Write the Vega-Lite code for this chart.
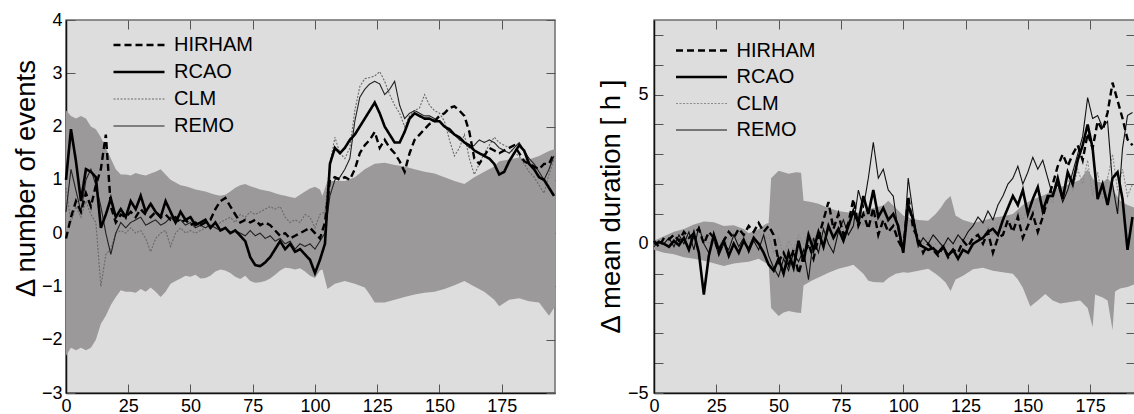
{
"$schema": "https://vega.github.io/schema/vega-lite/v6.json",
"padding": {"left": 11, "top": 10, "right": 0, "bottom": 0},
"bounds": "flush",
"spacing": 99,
"datasets": {
"Lband": [
{"x":0,"lo":-2.3,"hi":2.3},{"x":2,"lo":-2.15,"hi":2.2},{"x":4,"lo":-2.2,"hi":2.15},{"x":6,"lo":-2.15,"hi":2.2},{"x":8,"lo":-2.2,"hi":2.15},{"x":10,"lo":-2.15,"hi":2.0},{"x":12,"lo":-2.0,"hi":1.95},{"x":14,"lo":-1.7,"hi":1.8},{"x":16,"lo":-1.55,"hi":1.6},{"x":18,"lo":-1.35,"hi":1.4},
{"x":20,"lo":-1.2,"hi":1.2},{"x":22,"lo":-1.07,"hi":1.1},{"x":24,"lo":-1.1,"hi":1.1},{"x":26,"lo":-1.1,"hi":1.08},{"x":28,"lo":-1.12,"hi":1.13},{"x":30,"lo":-1.05,"hi":1.1},{"x":32,"lo":-1.1,"hi":1.08},{"x":34,"lo":-1.02,"hi":1.12},{"x":36,"lo":-1.1,"hi":1.15},{"x":38,"lo":-1.2,"hi":1.2},
{"x":40,"lo":-1.1,"hi":1.1},{"x":42,"lo":-0.95,"hi":1.0},{"x":44,"lo":-0.9,"hi":0.95},{"x":46,"lo":-0.85,"hi":0.9},{"x":48,"lo":-0.8,"hi":0.88},{"x":50,"lo":-0.82,"hi":0.85},{"x":52,"lo":-0.78,"hi":0.82},{"x":54,"lo":-0.85,"hi":0.8},{"x":56,"lo":-0.84,"hi":0.78},{"x":58,"lo":-0.8,"hi":0.75},
{"x":60,"lo":-0.72,"hi":0.72},{"x":62,"lo":-0.68,"hi":0.7},{"x":64,"lo":-0.7,"hi":0.72},{"x":66,"lo":-0.75,"hi":0.78},{"x":68,"lo":-0.82,"hi":0.85},{"x":70,"lo":-0.86,"hi":0.9},{"x":72,"lo":-0.8,"hi":0.92},{"x":74,"lo":-0.9,"hi":0.88},{"x":76,"lo":-0.93,"hi":0.85},{"x":78,"lo":-0.92,"hi":0.82},
{"x":80,"lo":-0.9,"hi":0.8},{"x":82,"lo":-0.85,"hi":0.78},{"x":84,"lo":-0.78,"hi":0.75},{"x":86,"lo":-0.7,"hi":0.72},{"x":88,"lo":-0.65,"hi":0.7},{"x":90,"lo":-0.66,"hi":0.68},{"x":92,"lo":-0.68,"hi":0.66},{"x":94,"lo":-0.66,"hi":0.72},{"x":96,"lo":-0.72,"hi":0.78},{"x":98,"lo":-0.8,"hi":0.84},
{"x":100,"lo":-0.84,"hi":0.87},{"x":102,"lo":-0.7,"hi":0.82},{"x":103,"lo":-0.68,"hi":0.7},{"x":105,"lo":-1.05,"hi":0.98},{"x":108,"lo":-0.95,"hi":0.98},{"x":112,"lo":-0.9,"hi":0.98},{"x":116,"lo":-0.95,"hi":1.05},{"x":120,"lo":-1.02,"hi":1.2},{"x":122,"lo":-1.15,"hi":1.25},{"x":124,"lo":-1.3,"hi":1.3},
{"x":128,"lo":-1.3,"hi":1.32},{"x":132,"lo":-1.25,"hi":1.28},{"x":136,"lo":-1.2,"hi":1.25},{"x":140,"lo":-1.15,"hi":1.2},{"x":144,"lo":-1.12,"hi":1.15},{"x":148,"lo":-1.1,"hi":1.12},{"x":152,"lo":-1.05,"hi":1.05},{"x":156,"lo":-0.98,"hi":0.98},{"x":160,"lo":-0.9,"hi":0.92},{"x":164,"lo":-1.0,"hi":1.05},
{"x":168,"lo":-1.1,"hi":1.15},{"x":172,"lo":-1.25,"hi":1.25},{"x":174,"lo":-1.37,"hi":1.35},{"x":178,"lo":-1.25,"hi":1.38},{"x":182,"lo":-1.22,"hi":1.42},{"x":186,"lo":-1.28,"hi":1.38},{"x":190,"lo":-1.3,"hi":1.45},{"x":194,"lo":-1.55,"hi":1.54},{"x":196.4,"lo":-1.37,"hi":1.58}
],
"Rband": [
{"x":0,"lo":-0.2,"hi":0.1},{"x":4,"lo":-0.3,"hi":0.25},{"x":8,"lo":-0.35,"hi":0.4},{"x":12,"lo":-0.45,"hi":0.5},{"x":16,"lo":-0.5,"hi":0.65},{"x":20,"lo":-0.57,"hi":0.75},{"x":24,"lo":-0.65,"hi":0.72},{"x":28,"lo":-0.74,"hi":0.6},{"x":32,"lo":-0.66,"hi":0.62},{"x":36,"lo":-0.62,"hi":0.5},
{"x":38,"lo":-0.6,"hi":0.35},{"x":42,"lo":-0.5,"hi":0.5},{"x":45,"lo":-0.65,"hi":0.67},{"x":46,"lo":-0.67,"hi":0.7},{"x":47,"lo":-2.15,"hi":2.2},{"x":50,"lo":-2.42,"hi":2.45},{"x":52,"lo":-2.3,"hi":2.4},{"x":54,"lo":-2.25,"hi":2.35},{"x":57,"lo":-2.3,"hi":2.4},{"x":59,"lo":-2.32,"hi":2.38},
{"x":60,"lo":-1.4,"hi":1.44},{"x":63,"lo":-1.25,"hi":1.4},{"x":66,"lo":-1.13,"hi":1.34},{"x":70,"lo":-0.97,"hi":1.2},{"x":74,"lo":-0.84,"hi":1.1},{"x":78,"lo":-0.75,"hi":1.05},{"x":80,"lo":-0.7,"hi":1.0},{"x":84,"lo":-1.0,"hi":1.1},{"x":86,"lo":-1.24,"hi":1.15},{"x":88,"lo":-1.28,"hi":1.2},
{"x":92,"lo":-1.3,"hi":1.28},{"x":94,"lo":-1.15,"hi":1.44},{"x":97,"lo":-1.0,"hi":1.2},{"x":100,"lo":-0.95,"hi":0.95},{"x":102,"lo":-0.97,"hi":0.87},{"x":106,"lo":-0.9,"hi":0.8},{"x":110,"lo":-0.84,"hi":0.77},{"x":113,"lo":-1.0,"hi":1.0},{"x":115,"lo":-1.14,"hi":1.2},{"x":117,"lo":-1.3,"hi":1.45},
{"x":119,"lo":-1.58,"hi":1.6},{"x":121,"lo":-1.2,"hi":0.95},{"x":124,"lo":-1.07,"hi":0.8},{"x":128,"lo":-0.85,"hi":0.7},{"x":132,"lo":-0.8,"hi":0.78},{"x":136,"lo":-0.9,"hi":0.87},{"x":140,"lo":-0.95,"hi":0.92},{"x":144,"lo":-1.0,"hi":1.0},{"x":146,"lo":-1.2,"hi":1.15},{"x":148,"lo":-1.47,"hi":1.3},
{"x":151,"lo":-2.1,"hi":1.44},{"x":154,"lo":-1.9,"hi":1.55},{"x":157,"lo":-1.68,"hi":1.65},{"x":160,"lo":-1.9,"hi":1.78},{"x":163,"lo":-2.0,"hi":1.9},{"x":167,"lo":-1.95,"hi":2.0},{"x":171,"lo":-1.9,"hi":2.15},{"x":174,"lo":-2.15,"hi":2.5},{"x":176,"lo":-2.8,"hi":2.2},{"x":177,"lo":-1.7,"hi":2.1},
{"x":180,"lo":-1.8,"hi":2.05},{"x":182,"lo":-1.9,"hi":2.2},{"x":184,"lo":-2.9,"hi":2.0},{"x":185,"lo":-1.6,"hi":1.7},{"x":187,"lo":-1.5,"hi":1.44},{"x":190,"lo":-1.45,"hi":1.3},{"x":193,"lo":-1.35,"hi":1.2}
],
"Lline": [
{"m":"CLM","x":0,"y":0.85},{"m":"CLM","x":2,"y":0.2},{"m":"CLM","x":4,"y":0.5},{"m":"CLM","x":6,"y":0.3},{"m":"CLM","x":8,"y":0.6},{"m":"CLM","x":10,"y":0.35},{"m":"CLM","x":12,"y":0.2},{"m":"CLM","x":14,"y":-1.0},{"m":"CLM","x":16,"y":-0.4},{"m":"CLM","x":18,"y":-0.3},
{"m":"CLM","x":20,"y":0.0},{"m":"CLM","x":22,"y":0.05},{"m":"CLM","x":24,"y":0.0},{"m":"CLM","x":26,"y":0.1},{"m":"CLM","x":28,"y":0.0},{"m":"CLM","x":30,"y":0.05},{"m":"CLM","x":32,"y":-0.1},{"m":"CLM","x":34,"y":-0.35},{"m":"CLM","x":36,"y":-0.1},{"m":"CLM","x":38,"y":0.0},
{"m":"CLM","x":40,"y":0.05},{"m":"CLM","x":42,"y":-0.25},{"m":"CLM","x":44,"y":0.0},{"m":"CLM","x":46,"y":0.1},{"m":"CLM","x":48,"y":0.0},{"m":"CLM","x":50,"y":0.05},{"m":"CLM","x":52,"y":0.0},{"m":"CLM","x":54,"y":0.05},{"m":"CLM","x":56,"y":0.1},{"m":"CLM","x":58,"y":0.15},
{"m":"CLM","x":60,"y":0.1},{"m":"CLM","x":62,"y":0.2},{"m":"CLM","x":64,"y":0.25},{"m":"CLM","x":66,"y":0.3},{"m":"CLM","x":68,"y":0.2},{"m":"CLM","x":70,"y":0.35},{"m":"CLM","x":72,"y":0.3},{"m":"CLM","x":74,"y":0.4},{"m":"CLM","x":76,"y":0.35},{"m":"CLM","x":78,"y":0.4},
{"m":"CLM","x":80,"y":0.45},{"m":"CLM","x":82,"y":0.5},{"m":"CLM","x":84,"y":0.45},{"m":"CLM","x":86,"y":0.5},{"m":"CLM","x":88,"y":0.3},{"m":"CLM","x":90,"y":0.2},{"m":"CLM","x":92,"y":0.25},{"m":"CLM","x":94,"y":0.2},{"m":"CLM","x":96,"y":0.35},{"m":"CLM","x":98,"y":0.3},
{"m":"CLM","x":100,"y":0.1},{"m":"CLM","x":102,"y":0.35},{"m":"CLM","x":104,"y":0.4},{"m":"CLM","x":106,"y":1.3},{"m":"CLM","x":108,"y":1.8},{"m":"CLM","x":110,"y":1.5},{"m":"CLM","x":112,"y":1.4},{"m":"CLM","x":114,"y":1.6},{"m":"CLM","x":116,"y":2.3},{"m":"CLM","x":118,"y":2.75},
{"m":"CLM","x":120,"y":2.9},{"m":"CLM","x":122,"y":2.92},{"m":"CLM","x":124,"y":2.95},{"m":"CLM","x":126,"y":3.03},{"m":"CLM","x":128,"y":2.85},{"m":"CLM","x":130,"y":2.6},{"m":"CLM","x":132,"y":2.4},{"m":"CLM","x":134,"y":2.25},{"m":"CLM","x":136,"y":2.0},{"m":"CLM","x":138,"y":2.2},
{"m":"CLM","x":140,"y":2.3},{"m":"CLM","x":142,"y":2.35},{"m":"CLM","x":144,"y":2.6},{"m":"CLM","x":146,"y":2.4},{"m":"CLM","x":148,"y":2.3},{"m":"CLM","x":150,"y":2.25},{"m":"CLM","x":152,"y":2.1},{"m":"CLM","x":154,"y":1.75},{"m":"CLM","x":156,"y":1.45},{"m":"CLM","x":158,"y":1.6},
{"m":"CLM","x":160,"y":1.85},{"m":"CLM","x":162,"y":1.4},{"m":"CLM","x":164,"y":1.1},{"m":"CLM","x":166,"y":1.3},{"m":"CLM","x":168,"y":1.5},{"m":"CLM","x":170,"y":1.65},{"m":"CLM","x":172,"y":1.8},{"m":"CLM","x":174,"y":1.7},{"m":"CLM","x":176,"y":1.65},{"m":"CLM","x":178,"y":1.6},
{"m":"CLM","x":180,"y":1.5},{"m":"CLM","x":182,"y":1.45},{"m":"CLM","x":184,"y":1.3},{"m":"CLM","x":186,"y":1.15},{"m":"CLM","x":188,"y":1.05},{"m":"CLM","x":190,"y":0.9},{"m":"CLM","x":192,"y":0.75},{"m":"CLM","x":194,"y":1.1},{"m":"CLM","x":196,"y":1.4},
{"m":"REMO","x":0,"y":0.4},{"m":"REMO","x":2,"y":1.2},{"m":"REMO","x":4,"y":0.8},{"m":"REMO","x":6,"y":0.4},{"m":"REMO","x":8,"y":1.0},{"m":"REMO","x":10,"y":1.2},{"m":"REMO","x":12,"y":0.9},{"m":"REMO","x":14,"y":0.5},{"m":"REMO","x":16,"y":0.0},{"m":"REMO","x":18,"y":-0.4},
{"m":"REMO","x":20,"y":0.0},{"m":"REMO","x":22,"y":0.2},{"m":"REMO","x":24,"y":0.1},{"m":"REMO","x":26,"y":0.2},{"m":"REMO","x":28,"y":0.25},{"m":"REMO","x":30,"y":0.3},{"m":"REMO","x":32,"y":0.15},{"m":"REMO","x":34,"y":0.2},{"m":"REMO","x":36,"y":0.25},{"m":"REMO","x":38,"y":0.15},
{"m":"REMO","x":40,"y":0.2},{"m":"REMO","x":42,"y":0.3},{"m":"REMO","x":44,"y":0.2},{"m":"REMO","x":46,"y":0.25},{"m":"REMO","x":48,"y":0.15},{"m":"REMO","x":50,"y":0.2},{"m":"REMO","x":52,"y":0.1},{"m":"REMO","x":54,"y":0.15},{"m":"REMO","x":56,"y":0.1},{"m":"REMO","x":58,"y":0.15},
{"m":"REMO","x":60,"y":0.1},{"m":"REMO","x":62,"y":0.05},{"m":"REMO","x":64,"y":0.1},{"m":"REMO","x":66,"y":0.0},{"m":"REMO","x":68,"y":0.05},{"m":"REMO","x":70,"y":0.0},{"m":"REMO","x":72,"y":-0.05},{"m":"REMO","x":74,"y":0.05},{"m":"REMO","x":76,"y":-0.05},{"m":"REMO","x":78,"y":0.0},
{"m":"REMO","x":80,"y":-0.1},{"m":"REMO","x":82,"y":-0.05},{"m":"REMO","x":84,"y":-0.15},{"m":"REMO","x":86,"y":-0.1},{"m":"REMO","x":88,"y":-0.2},{"m":"REMO","x":90,"y":-0.15},{"m":"REMO","x":92,"y":-0.3},{"m":"REMO","x":94,"y":-0.2},{"m":"REMO","x":96,"y":-0.25},{"m":"REMO","x":98,"y":-0.2},
{"m":"REMO","x":100,"y":-0.3},{"m":"REMO","x":102,"y":-0.15},{"m":"REMO","x":104,"y":0.0},{"m":"REMO","x":106,"y":0.7},{"m":"REMO","x":108,"y":1.0},{"m":"REMO","x":110,"y":1.05},{"m":"REMO","x":112,"y":1.2},{"m":"REMO","x":114,"y":1.4},{"m":"REMO","x":116,"y":2.1},{"m":"REMO","x":118,"y":2.55},
{"m":"REMO","x":120,"y":2.7},{"m":"REMO","x":122,"y":2.8},{"m":"REMO","x":124,"y":2.85},{"m":"REMO","x":126,"y":2.8},{"m":"REMO","x":128,"y":2.6},{"m":"REMO","x":130,"y":2.7},{"m":"REMO","x":132,"y":2.85},{"m":"REMO","x":134,"y":2.4},{"m":"REMO","x":136,"y":2.15},{"m":"REMO","x":138,"y":2.25},
{"m":"REMO","x":140,"y":2.3},{"m":"REMO","x":142,"y":2.25},{"m":"REMO","x":144,"y":2.2},{"m":"REMO","x":146,"y":2.2},{"m":"REMO","x":148,"y":2.15},{"m":"REMO","x":150,"y":2.1},{"m":"REMO","x":152,"y":2.0},{"m":"REMO","x":154,"y":1.9},{"m":"REMO","x":156,"y":1.85},{"m":"REMO","x":158,"y":1.75},
{"m":"REMO","x":160,"y":1.7},{"m":"REMO","x":162,"y":1.6},{"m":"REMO","x":164,"y":1.65},{"m":"REMO","x":166,"y":1.75},{"m":"REMO","x":168,"y":1.7},{"m":"REMO","x":170,"y":1.75},{"m":"REMO","x":172,"y":1.7},{"m":"REMO","x":174,"y":1.6},{"m":"REMO","x":176,"y":1.55},{"m":"REMO","x":178,"y":1.5},
{"m":"REMO","x":180,"y":1.6},{"m":"REMO","x":182,"y":1.7},{"m":"REMO","x":184,"y":1.55},{"m":"REMO","x":186,"y":1.4},{"m":"REMO","x":188,"y":1.3},{"m":"REMO","x":190,"y":1.15},{"m":"REMO","x":192,"y":1.0},{"m":"REMO","x":194,"y":1.2},{"m":"REMO","x":196,"y":1.45},
{"m":"HIRHAM","x":0,"y":-0.1},{"m":"HIRHAM","x":2,"y":0.3},{"m":"HIRHAM","x":4,"y":0.6},{"m":"HIRHAM","x":6,"y":0.4},{"m":"HIRHAM","x":8,"y":0.75},{"m":"HIRHAM","x":10,"y":0.5},{"m":"HIRHAM","x":12,"y":0.9},{"m":"HIRHAM","x":14,"y":1.2},{"m":"HIRHAM","x":16,"y":1.85},{"m":"HIRHAM","x":18,"y":0.5},
{"m":"HIRHAM","x":20,"y":0.2},{"m":"HIRHAM","x":22,"y":0.35},{"m":"HIRHAM","x":24,"y":0.3},{"m":"HIRHAM","x":26,"y":0.4},{"m":"HIRHAM","x":28,"y":0.3},{"m":"HIRHAM","x":30,"y":0.45},{"m":"HIRHAM","x":32,"y":0.35},{"m":"HIRHAM","x":34,"y":0.3},{"m":"HIRHAM","x":36,"y":0.4},{"m":"HIRHAM","x":38,"y":0.3},
{"m":"HIRHAM","x":40,"y":0.35},{"m":"HIRHAM","x":42,"y":0.25},{"m":"HIRHAM","x":44,"y":0.3},{"m":"HIRHAM","x":46,"y":0.2},{"m":"HIRHAM","x":48,"y":0.25},{"m":"HIRHAM","x":50,"y":0.15},{"m":"HIRHAM","x":52,"y":0.2},{"m":"HIRHAM","x":54,"y":0.15},{"m":"HIRHAM","x":56,"y":0.2},{"m":"HIRHAM","x":58,"y":0.25},
{"m":"HIRHAM","x":60,"y":0.45},{"m":"HIRHAM","x":62,"y":0.6},{"m":"HIRHAM","x":64,"y":0.66},{"m":"HIRHAM","x":66,"y":0.5},{"m":"HIRHAM","x":68,"y":0.35},{"m":"HIRHAM","x":70,"y":0.2},{"m":"HIRHAM","x":72,"y":0.25},{"m":"HIRHAM","x":74,"y":0.2},{"m":"HIRHAM","x":76,"y":0.25},{"m":"HIRHAM","x":78,"y":0.15},
{"m":"HIRHAM","x":80,"y":0.2},{"m":"HIRHAM","x":82,"y":0.15},{"m":"HIRHAM","x":84,"y":0.05},{"m":"HIRHAM","x":86,"y":-0.05},{"m":"HIRHAM","x":88,"y":0.0},{"m":"HIRHAM","x":90,"y":-0.1},{"m":"HIRHAM","x":92,"y":-0.05},{"m":"HIRHAM","x":94,"y":0.0},{"m":"HIRHAM","x":96,"y":0.05},{"m":"HIRHAM","x":98,"y":0.1},
{"m":"HIRHAM","x":100,"y":0.0},{"m":"HIRHAM","x":102,"y":-0.1},{"m":"HIRHAM","x":104,"y":0.2},{"m":"HIRHAM","x":106,"y":1.0},{"m":"HIRHAM","x":108,"y":1.05},{"m":"HIRHAM","x":110,"y":1.0},{"m":"HIRHAM","x":112,"y":1.05},{"m":"HIRHAM","x":114,"y":1.0},{"m":"HIRHAM","x":116,"y":1.2},{"m":"HIRHAM","x":118,"y":1.5},
{"m":"HIRHAM","x":120,"y":1.65},{"m":"HIRHAM","x":122,"y":1.75},{"m":"HIRHAM","x":124,"y":1.9},{"m":"HIRHAM","x":126,"y":1.6},{"m":"HIRHAM","x":128,"y":1.75},{"m":"HIRHAM","x":130,"y":1.6},{"m":"HIRHAM","x":132,"y":1.5},{"m":"HIRHAM","x":134,"y":1.35},{"m":"HIRHAM","x":136,"y":1.15},{"m":"HIRHAM","x":138,"y":1.5},
{"m":"HIRHAM","x":140,"y":1.75},{"m":"HIRHAM","x":142,"y":1.85},{"m":"HIRHAM","x":144,"y":1.95},{"m":"HIRHAM","x":146,"y":2.05},{"m":"HIRHAM","x":148,"y":2.1},{"m":"HIRHAM","x":150,"y":2.2},{"m":"HIRHAM","x":152,"y":2.25},{"m":"HIRHAM","x":154,"y":2.35},{"m":"HIRHAM","x":156,"y":2.38},{"m":"HIRHAM","x":158,"y":2.3},
{"m":"HIRHAM","x":160,"y":2.2},{"m":"HIRHAM","x":162,"y":1.9},{"m":"HIRHAM","x":164,"y":1.4},{"m":"HIRHAM","x":166,"y":1.3},{"m":"HIRHAM","x":168,"y":1.45},{"m":"HIRHAM","x":170,"y":1.6},{"m":"HIRHAM","x":172,"y":1.55},{"m":"HIRHAM","x":174,"y":1.5},{"m":"HIRHAM","x":176,"y":1.55},{"m":"HIRHAM","x":178,"y":1.6},
{"m":"HIRHAM","x":180,"y":1.65},{"m":"HIRHAM","x":182,"y":1.5},{"m":"HIRHAM","x":184,"y":1.35},{"m":"HIRHAM","x":186,"y":1.3},{"m":"HIRHAM","x":188,"y":1.25},{"m":"HIRHAM","x":190,"y":1.2},{"m":"HIRHAM","x":192,"y":1.3},{"m":"HIRHAM","x":194,"y":1.3},{"m":"HIRHAM","x":196,"y":1.5},
{"m":"RCAO","x":0,"y":1.0},{"m":"RCAO","x":2,"y":1.95},{"m":"RCAO","x":4,"y":1.35},{"m":"RCAO","x":6,"y":0.6},{"m":"RCAO","x":8,"y":1.2},{"m":"RCAO","x":10,"y":1.15},{"m":"RCAO","x":12,"y":1.05},{"m":"RCAO","x":14,"y":0.1},{"m":"RCAO","x":16,"y":0.35},{"m":"RCAO","x":18,"y":0.65},
{"m":"RCAO","x":20,"y":0.3},{"m":"RCAO","x":22,"y":0.45},{"m":"RCAO","x":24,"y":0.3},{"m":"RCAO","x":26,"y":0.6},{"m":"RCAO","x":28,"y":0.45},{"m":"RCAO","x":30,"y":0.7},{"m":"RCAO","x":32,"y":0.4},{"m":"RCAO","x":34,"y":0.55},{"m":"RCAO","x":36,"y":0.4},{"m":"RCAO","x":38,"y":0.3},
{"m":"RCAO","x":40,"y":0.6},{"m":"RCAO","x":42,"y":0.4},{"m":"RCAO","x":44,"y":0.2},{"m":"RCAO","x":46,"y":0.4},{"m":"RCAO","x":48,"y":0.25},{"m":"RCAO","x":50,"y":0.3},{"m":"RCAO","x":52,"y":0.15},{"m":"RCAO","x":54,"y":0.2},{"m":"RCAO","x":56,"y":0.25},{"m":"RCAO","x":58,"y":0.1},
{"m":"RCAO","x":60,"y":0.2},{"m":"RCAO","x":62,"y":0.05},{"m":"RCAO","x":64,"y":0.1},{"m":"RCAO","x":66,"y":0.0},{"m":"RCAO","x":68,"y":0.05},{"m":"RCAO","x":70,"y":-0.05},{"m":"RCAO","x":72,"y":-0.15},{"m":"RCAO","x":74,"y":-0.45},{"m":"RCAO","x":76,"y":-0.6},{"m":"RCAO","x":78,"y":-0.62},
{"m":"RCAO","x":80,"y":-0.55},{"m":"RCAO","x":82,"y":-0.45},{"m":"RCAO","x":84,"y":-0.3},{"m":"RCAO","x":86,"y":-0.15},{"m":"RCAO","x":88,"y":-0.3},{"m":"RCAO","x":90,"y":-0.2},{"m":"RCAO","x":92,"y":-0.35},{"m":"RCAO","x":94,"y":-0.3},{"m":"RCAO","x":96,"y":-0.4},{"m":"RCAO","x":98,"y":-0.5},
{"m":"RCAO","x":100,"y":-0.75},{"m":"RCAO","x":102,"y":-0.5},{"m":"RCAO","x":104,"y":-0.2},{"m":"RCAO","x":106,"y":1.3},{"m":"RCAO","x":108,"y":1.6},{"m":"RCAO","x":110,"y":1.5},{"m":"RCAO","x":112,"y":1.6},{"m":"RCAO","x":114,"y":1.75},{"m":"RCAO","x":116,"y":1.85},{"m":"RCAO","x":118,"y":2.0},
{"m":"RCAO","x":120,"y":2.15},{"m":"RCAO","x":122,"y":2.3},{"m":"RCAO","x":124,"y":2.45},{"m":"RCAO","x":126,"y":2.25},{"m":"RCAO","x":128,"y":2.0},{"m":"RCAO","x":130,"y":1.85},{"m":"RCAO","x":132,"y":1.7},{"m":"RCAO","x":134,"y":1.7},{"m":"RCAO","x":136,"y":1.9},{"m":"RCAO","x":138,"y":2.15},
{"m":"RCAO","x":140,"y":2.25},{"m":"RCAO","x":142,"y":2.2},{"m":"RCAO","x":144,"y":2.15},{"m":"RCAO","x":146,"y":2.15},{"m":"RCAO","x":148,"y":2.1},{"m":"RCAO","x":150,"y":2.1},{"m":"RCAO","x":152,"y":2.0},{"m":"RCAO","x":154,"y":1.95},{"m":"RCAO","x":156,"y":1.85},{"m":"RCAO","x":158,"y":1.8},
{"m":"RCAO","x":160,"y":1.7},{"m":"RCAO","x":162,"y":1.65},{"m":"RCAO","x":164,"y":1.55},{"m":"RCAO","x":166,"y":1.5},{"m":"RCAO","x":168,"y":1.45},{"m":"RCAO","x":170,"y":1.4},{"m":"RCAO","x":172,"y":1.3},{"m":"RCAO","x":174,"y":1.1},{"m":"RCAO","x":176,"y":1.15},{"m":"RCAO","x":178,"y":1.35},
{"m":"RCAO","x":180,"y":1.5},{"m":"RCAO","x":182,"y":1.65},{"m":"RCAO","x":184,"y":1.55},{"m":"RCAO","x":186,"y":1.3},{"m":"RCAO","x":188,"y":1.2},{"m":"RCAO","x":190,"y":1.05},{"m":"RCAO","x":192,"y":1.0},{"m":"RCAO","x":194,"y":0.85},{"m":"RCAO","x":196,"y":0.7}
],
"Rline": [
{"m":"CLM","x":0,"y":0.0},{"m":"CLM","x":2,"y":0.1},{"m":"CLM","x":4,"y":-0.05},{"m":"CLM","x":6,"y":0.1},{"m":"CLM","x":8,"y":0.0},{"m":"CLM","x":10,"y":0.15},{"m":"CLM","x":12,"y":0.05},{"m":"CLM","x":14,"y":0.2},{"m":"CLM","x":16,"y":0.0},{"m":"CLM","x":18,"y":0.1},
{"m":"CLM","x":20,"y":0.3},{"m":"CLM","x":22,"y":0.0},{"m":"CLM","x":24,"y":0.2},{"m":"CLM","x":26,"y":0.1},{"m":"CLM","x":28,"y":-0.1},{"m":"CLM","x":30,"y":0.2},{"m":"CLM","x":32,"y":0.3},{"m":"CLM","x":34,"y":0.1},{"m":"CLM","x":36,"y":0.3},{"m":"CLM","x":38,"y":0.0},
{"m":"CLM","x":40,"y":0.2},{"m":"CLM","x":42,"y":0.4},{"m":"CLM","x":44,"y":0.1},{"m":"CLM","x":46,"y":0.3},{"m":"CLM","x":48,"y":-0.3},{"m":"CLM","x":50,"y":0.2},{"m":"CLM","x":52,"y":-0.4},{"m":"CLM","x":54,"y":0.1},{"m":"CLM","x":56,"y":-0.2},{"m":"CLM","x":58,"y":0.3},
{"m":"CLM","x":60,"y":0.0},{"m":"CLM","x":62,"y":0.4},{"m":"CLM","x":64,"y":0.1},{"m":"CLM","x":66,"y":0.5},{"m":"CLM","x":68,"y":0.2},{"m":"CLM","x":70,"y":0.7},{"m":"CLM","x":72,"y":0.3},{"m":"CLM","x":74,"y":0.6},{"m":"CLM","x":76,"y":0.2},{"m":"CLM","x":78,"y":0.8},
{"m":"CLM","x":80,"y":0.5},{"m":"CLM","x":82,"y":1.0},{"m":"CLM","x":84,"y":0.6},{"m":"CLM","x":86,"y":1.2},{"m":"CLM","x":88,"y":0.7},{"m":"CLM","x":90,"y":1.0},{"m":"CLM","x":92,"y":0.5},{"m":"CLM","x":94,"y":0.8},{"m":"CLM","x":96,"y":0.4},{"m":"CLM","x":98,"y":0.6},
{"m":"CLM","x":100,"y":0.0},{"m":"CLM","x":102,"y":0.9},{"m":"CLM","x":104,"y":0.4},{"m":"CLM","x":106,"y":0.1},{"m":"CLM","x":108,"y":0.0},{"m":"CLM","x":110,"y":0.2},{"m":"CLM","x":112,"y":-0.1},{"m":"CLM","x":114,"y":0.1},{"m":"CLM","x":116,"y":-0.2},{"m":"CLM","x":118,"y":0.0},
{"m":"CLM","x":120,"y":-0.1},{"m":"CLM","x":122,"y":0.1},{"m":"CLM","x":124,"y":0.0},{"m":"CLM","x":126,"y":0.2},{"m":"CLM","x":128,"y":0.1},{"m":"CLM","x":130,"y":0.4},{"m":"CLM","x":132,"y":0.2},{"m":"CLM","x":134,"y":0.6},{"m":"CLM","x":136,"y":0.3},{"m":"CLM","x":138,"y":0.7},
{"m":"CLM","x":140,"y":0.5},{"m":"CLM","x":142,"y":0.9},{"m":"CLM","x":144,"y":0.6},{"m":"CLM","x":146,"y":1.1},{"m":"CLM","x":148,"y":0.8},{"m":"CLM","x":150,"y":1.3},{"m":"CLM","x":152,"y":1.0},{"m":"CLM","x":154,"y":1.5},{"m":"CLM","x":156,"y":1.2},{"m":"CLM","x":158,"y":1.6},
{"m":"CLM","x":160,"y":1.4},{"m":"CLM","x":162,"y":2.0},{"m":"CLM","x":164,"y":1.5},{"m":"CLM","x":166,"y":2.2},{"m":"CLM","x":168,"y":1.8},{"m":"CLM","x":170,"y":2.5},{"m":"CLM","x":172,"y":2.0},{"m":"CLM","x":174,"y":2.8},{"m":"CLM","x":176,"y":1.6},{"m":"CLM","x":178,"y":2.4},
{"m":"CLM","x":180,"y":1.5},{"m":"CLM","x":182,"y":2.2},{"m":"CLM","x":184,"y":3.0},{"m":"CLM","x":186,"y":1.8},{"m":"CLM","x":188,"y":2.5},{"m":"CLM","x":190,"y":1.6},{"m":"CLM","x":192,"y":2.0},
{"m":"REMO","x":0,"y":-0.1},{"m":"REMO","x":2,"y":0.1},{"m":"REMO","x":4,"y":0.0},{"m":"REMO","x":6,"y":0.2},{"m":"REMO","x":8,"y":-0.1},{"m":"REMO","x":10,"y":0.3},{"m":"REMO","x":12,"y":0.0},{"m":"REMO","x":14,"y":0.4},{"m":"REMO","x":16,"y":-0.2},{"m":"REMO","x":18,"y":0.6},
{"m":"REMO","x":20,"y":0.0},{"m":"REMO","x":22,"y":-0.3},{"m":"REMO","x":24,"y":0.2},{"m":"REMO","x":26,"y":-0.4},{"m":"REMO","x":28,"y":0.0},{"m":"REMO","x":30,"y":-0.2},{"m":"REMO","x":32,"y":0.3},{"m":"REMO","x":34,"y":-0.1},{"m":"REMO","x":36,"y":0.2},{"m":"REMO","x":38,"y":-0.3},
{"m":"REMO","x":40,"y":0.1},{"m":"REMO","x":42,"y":-0.2},{"m":"REMO","x":44,"y":0.3},{"m":"REMO","x":46,"y":-0.4},{"m":"REMO","x":48,"y":-0.8},{"m":"REMO","x":50,"y":-1.1},{"m":"REMO","x":52,"y":-0.5},{"m":"REMO","x":54,"y":-0.9},{"m":"REMO","x":56,"y":-0.3},{"m":"REMO","x":58,"y":-0.6},
{"m":"REMO","x":60,"y":-0.2},{"m":"REMO","x":62,"y":-1.2},{"m":"REMO","x":64,"y":0.2},{"m":"REMO","x":66,"y":-0.3},{"m":"REMO","x":68,"y":0.5},{"m":"REMO","x":70,"y":0.0},{"m":"REMO","x":72,"y":-0.3},{"m":"REMO","x":74,"y":0.4},{"m":"REMO","x":76,"y":0.8},{"m":"REMO","x":78,"y":0.3},
{"m":"REMO","x":80,"y":0.6},{"m":"REMO","x":82,"y":1.8},{"m":"REMO","x":84,"y":1.2},{"m":"REMO","x":86,"y":2.2},{"m":"REMO","x":88,"y":3.4},{"m":"REMO","x":90,"y":2.2},{"m":"REMO","x":92,"y":2.5},{"m":"REMO","x":94,"y":1.8},{"m":"REMO","x":96,"y":1.6},{"m":"REMO","x":98,"y":0.4},
{"m":"REMO","x":100,"y":-0.3},{"m":"REMO","x":102,"y":2.2},{"m":"REMO","x":104,"y":1.0},{"m":"REMO","x":106,"y":-0.1},{"m":"REMO","x":108,"y":0.2},{"m":"REMO","x":110,"y":0.0},{"m":"REMO","x":112,"y":0.3},{"m":"REMO","x":114,"y":0.1},{"m":"REMO","x":116,"y":-0.1},{"m":"REMO","x":118,"y":0.2},
{"m":"REMO","x":120,"y":0.0},{"m":"REMO","x":122,"y":0.3},{"m":"REMO","x":124,"y":0.1},{"m":"REMO","x":126,"y":0.4},{"m":"REMO","x":128,"y":0.6},{"m":"REMO","x":130,"y":0.9},{"m":"REMO","x":132,"y":0.7},{"m":"REMO","x":134,"y":1.1},{"m":"REMO","x":136,"y":0.8},{"m":"REMO","x":138,"y":1.3},
{"m":"REMO","x":140,"y":1.6},{"m":"REMO","x":142,"y":2.0},{"m":"REMO","x":144,"y":2.2},{"m":"REMO","x":146,"y":2.6},{"m":"REMO","x":148,"y":2.0},{"m":"REMO","x":150,"y":2.4},{"m":"REMO","x":152,"y":2.9},{"m":"REMO","x":154,"y":2.5},{"m":"REMO","x":156,"y":2.8},{"m":"REMO","x":158,"y":2.2},
{"m":"REMO","x":160,"y":1.6},{"m":"REMO","x":162,"y":2.0},{"m":"REMO","x":164,"y":1.4},{"m":"REMO","x":166,"y":1.8},{"m":"REMO","x":168,"y":2.4},{"m":"REMO","x":170,"y":3.0},{"m":"REMO","x":172,"y":3.6},{"m":"REMO","x":174,"y":4.9},{"m":"REMO","x":176,"y":4.2},{"m":"REMO","x":178,"y":4.3},
{"m":"REMO","x":180,"y":3.9},{"m":"REMO","x":182,"y":4.1},{"m":"REMO","x":184,"y":2.0},{"m":"REMO","x":186,"y":1.0},{"m":"REMO","x":188,"y":3.2},{"m":"REMO","x":190,"y":4.3},{"m":"REMO","x":192,"y":4.4},
{"m":"HIRHAM","x":0,"y":0.1},{"m":"HIRHAM","x":2,"y":-0.1},{"m":"HIRHAM","x":4,"y":0.2},{"m":"HIRHAM","x":6,"y":0.15},{"m":"HIRHAM","x":8,"y":0.3},{"m":"HIRHAM","x":10,"y":0.1},{"m":"HIRHAM","x":12,"y":0.4},{"m":"HIRHAM","x":14,"y":0.2},{"m":"HIRHAM","x":16,"y":0.35},{"m":"HIRHAM","x":18,"y":0.5},
{"m":"HIRHAM","x":20,"y":0.0},{"m":"HIRHAM","x":22,"y":0.4},{"m":"HIRHAM","x":24,"y":0.2},{"m":"HIRHAM","x":26,"y":-0.3},{"m":"HIRHAM","x":28,"y":0.1},{"m":"HIRHAM","x":30,"y":0.4},{"m":"HIRHAM","x":32,"y":0.2},{"m":"HIRHAM","x":34,"y":0.5},{"m":"HIRHAM","x":36,"y":0.3},{"m":"HIRHAM","x":38,"y":0.6},
{"m":"HIRHAM","x":40,"y":0.4},{"m":"HIRHAM","x":42,"y":0.7},{"m":"HIRHAM","x":44,"y":0.4},{"m":"HIRHAM","x":46,"y":0.6},{"m":"HIRHAM","x":48,"y":0.3},{"m":"HIRHAM","x":50,"y":-0.6},{"m":"HIRHAM","x":52,"y":-0.3},{"m":"HIRHAM","x":54,"y":-0.7},{"m":"HIRHAM","x":56,"y":-0.2},{"m":"HIRHAM","x":58,"y":-1.0},
{"m":"HIRHAM","x":60,"y":-0.4},{"m":"HIRHAM","x":62,"y":0.0},{"m":"HIRHAM","x":64,"y":-0.5},{"m":"HIRHAM","x":66,"y":0.2},{"m":"HIRHAM","x":68,"y":0.8},{"m":"HIRHAM","x":70,"y":1.4},{"m":"HIRHAM","x":72,"y":0.5},{"m":"HIRHAM","x":74,"y":1.0},{"m":"HIRHAM","x":76,"y":0.3},{"m":"HIRHAM","x":78,"y":0.7},
{"m":"HIRHAM","x":80,"y":1.5},{"m":"HIRHAM","x":82,"y":0.6},{"m":"HIRHAM","x":84,"y":1.0},{"m":"HIRHAM","x":86,"y":0.5},{"m":"HIRHAM","x":88,"y":1.2},{"m":"HIRHAM","x":90,"y":0.3},{"m":"HIRHAM","x":92,"y":0.8},{"m":"HIRHAM","x":94,"y":0.4},{"m":"HIRHAM","x":96,"y":0.6},{"m":"HIRHAM","x":98,"y":0.1},
{"m":"HIRHAM","x":100,"y":-0.2},{"m":"HIRHAM","x":102,"y":1.6},{"m":"HIRHAM","x":104,"y":0.5},{"m":"HIRHAM","x":106,"y":0.2},{"m":"HIRHAM","x":108,"y":-0.3},{"m":"HIRHAM","x":110,"y":0.0},{"m":"HIRHAM","x":112,"y":-0.2},{"m":"HIRHAM","x":114,"y":-0.4},{"m":"HIRHAM","x":116,"y":-0.1},{"m":"HIRHAM","x":118,"y":-0.45},
{"m":"HIRHAM","x":120,"y":-0.2},{"m":"HIRHAM","x":122,"y":-0.3},{"m":"HIRHAM","x":124,"y":0.1},{"m":"HIRHAM","x":126,"y":-0.1},{"m":"HIRHAM","x":128,"y":0.2},{"m":"HIRHAM","x":130,"y":0.3},{"m":"HIRHAM","x":132,"y":0.0},{"m":"HIRHAM","x":134,"y":0.4},{"m":"HIRHAM","x":136,"y":-0.3},{"m":"HIRHAM","x":138,"y":0.2},
{"m":"HIRHAM","x":140,"y":0.3},{"m":"HIRHAM","x":142,"y":0.8},{"m":"HIRHAM","x":144,"y":0.4},{"m":"HIRHAM","x":146,"y":0.9},{"m":"HIRHAM","x":148,"y":0.2},{"m":"HIRHAM","x":150,"y":0.6},{"m":"HIRHAM","x":152,"y":1.0},{"m":"HIRHAM","x":154,"y":0.4},{"m":"HIRHAM","x":156,"y":0.9},{"m":"HIRHAM","x":158,"y":1.5},
{"m":"HIRHAM","x":160,"y":2.0},{"m":"HIRHAM","x":162,"y":2.6},{"m":"HIRHAM","x":164,"y":3.0},{"m":"HIRHAM","x":166,"y":2.6},{"m":"HIRHAM","x":168,"y":3.0},{"m":"HIRHAM","x":170,"y":3.3},{"m":"HIRHAM","x":172,"y":2.8},{"m":"HIRHAM","x":174,"y":3.7},{"m":"HIRHAM","x":176,"y":3.2},{"m":"HIRHAM","x":178,"y":4.1},
{"m":"HIRHAM","x":180,"y":3.8},{"m":"HIRHAM","x":182,"y":4.4},{"m":"HIRHAM","x":184,"y":5.4},{"m":"HIRHAM","x":186,"y":4.8},{"m":"HIRHAM","x":188,"y":4.2},{"m":"HIRHAM","x":190,"y":3.5},{"m":"HIRHAM","x":192,"y":3.3},
{"m":"RCAO","x":0,"y":0.0},{"m":"RCAO","x":2,"y":0.05},{"m":"RCAO","x":4,"y":0.0},{"m":"RCAO","x":6,"y":-0.1},{"m":"RCAO","x":8,"y":0.1},{"m":"RCAO","x":10,"y":-0.05},{"m":"RCAO","x":12,"y":0.2},{"m":"RCAO","x":14,"y":-0.2},{"m":"RCAO","x":16,"y":0.35},{"m":"RCAO","x":18,"y":-0.3},
{"m":"RCAO","x":20,"y":-1.7},{"m":"RCAO","x":22,"y":-0.4},{"m":"RCAO","x":24,"y":0.3},{"m":"RCAO","x":26,"y":-0.2},{"m":"RCAO","x":28,"y":0.1},{"m":"RCAO","x":30,"y":-0.4},{"m":"RCAO","x":32,"y":0.0},{"m":"RCAO","x":34,"y":-0.3},{"m":"RCAO","x":36,"y":0.1},{"m":"RCAO","x":38,"y":-0.2},
{"m":"RCAO","x":40,"y":0.2},{"m":"RCAO","x":42,"y":0.0},{"m":"RCAO","x":44,"y":-0.3},{"m":"RCAO","x":46,"y":-0.7},{"m":"RCAO","x":48,"y":-0.9},{"m":"RCAO","x":50,"y":-0.5},{"m":"RCAO","x":52,"y":-1.0},{"m":"RCAO","x":54,"y":-0.3},{"m":"RCAO","x":56,"y":-0.8},{"m":"RCAO","x":58,"y":0.1},
{"m":"RCAO","x":60,"y":-0.6},{"m":"RCAO","x":62,"y":0.3},{"m":"RCAO","x":64,"y":-0.2},{"m":"RCAO","x":66,"y":0.4},{"m":"RCAO","x":68,"y":-0.1},{"m":"RCAO","x":70,"y":0.6},{"m":"RCAO","x":72,"y":0.2},{"m":"RCAO","x":74,"y":0.5},{"m":"RCAO","x":76,"y":0.1},{"m":"RCAO","x":78,"y":0.6},
{"m":"RCAO","x":80,"y":1.1},{"m":"RCAO","x":82,"y":0.7},{"m":"RCAO","x":84,"y":1.6},{"m":"RCAO","x":86,"y":1.0},{"m":"RCAO","x":88,"y":1.8},{"m":"RCAO","x":90,"y":0.9},{"m":"RCAO","x":92,"y":1.2},{"m":"RCAO","x":94,"y":0.8},{"m":"RCAO","x":96,"y":1.0},{"m":"RCAO","x":98,"y":0.6},
{"m":"RCAO","x":100,"y":-0.3},{"m":"RCAO","x":102,"y":1.3},{"m":"RCAO","x":104,"y":0.8},{"m":"RCAO","x":106,"y":0.0},{"m":"RCAO","x":108,"y":-0.1},{"m":"RCAO","x":110,"y":-0.2},{"m":"RCAO","x":112,"y":-0.15},{"m":"RCAO","x":114,"y":-0.3},{"m":"RCAO","x":116,"y":-0.1},{"m":"RCAO","x":118,"y":-0.4},
{"m":"RCAO","x":120,"y":-0.2},{"m":"RCAO","x":122,"y":-0.5},{"m":"RCAO","x":124,"y":-0.2},{"m":"RCAO","x":126,"y":-0.3},{"m":"RCAO","x":128,"y":0.0},{"m":"RCAO","x":130,"y":0.1},{"m":"RCAO","x":132,"y":0.2},{"m":"RCAO","x":134,"y":0.4},{"m":"RCAO","x":136,"y":0.5},{"m":"RCAO","x":138,"y":0.3},
{"m":"RCAO","x":140,"y":0.8},{"m":"RCAO","x":142,"y":1.2},{"m":"RCAO","x":144,"y":1.6},{"m":"RCAO","x":146,"y":1.3},{"m":"RCAO","x":148,"y":1.8},{"m":"RCAO","x":150,"y":1.0},{"m":"RCAO","x":152,"y":1.5},{"m":"RCAO","x":154,"y":1.9},{"m":"RCAO","x":156,"y":1.1},{"m":"RCAO","x":158,"y":1.6},
{"m":"RCAO","x":160,"y":1.6},{"m":"RCAO","x":162,"y":2.2},{"m":"RCAO","x":164,"y":1.5},{"m":"RCAO","x":166,"y":2.4},{"m":"RCAO","x":168,"y":2.0},{"m":"RCAO","x":170,"y":2.8},{"m":"RCAO","x":172,"y":3.3},{"m":"RCAO","x":174,"y":4.0},{"m":"RCAO","x":176,"y":3.2},{"m":"RCAO","x":178,"y":1.5},
{"m":"RCAO","x":180,"y":2.0},{"m":"RCAO","x":182,"y":1.3},{"m":"RCAO","x":184,"y":2.2},{"m":"RCAO","x":186,"y":2.4},{"m":"RCAO","x":188,"y":1.5},{"m":"RCAO","x":190,"y":-0.2},{"m":"RCAO","x":192,"y":0.9}
]
},
"resolve": {
  "scale": {"color": "independent", "strokeDash": "independent", "strokeWidth": "independent"},
  "legend": {"color": "independent", "strokeDash": "independent", "strokeWidth": "independent"}
},
"hconcat": [
{
  "width": 489, "height": 373,
  "layer": [
    {
      "data": {"name": "Lband"},
      "mark": {"type": "area", "color": "#9b9999", "strokeWidth": 0},
      "encoding": {
        "x": {"field": "x", "type": "quantitative", "scale": {"domain": [0, 196.4], "nice": false, "zero": false},
              "axis": {"orient": "bottom", "title": null, "values": [0,25,50,75,100,125,150,175], "labelPadding": 13}},
        "y": {"field": "lo", "type": "quantitative", "scale": {"domain": [-3, 4], "nice": false, "zero": false},
              "axis": {"orient": "left", "title": "Δ number of events", "values": [-3,-2,-1,0,1,2,3,4], "labelPadding": 13,
                       "titleX": -32, "titleY": 158, "titleAngle": -90, "titleBaseline": "alphabetic", "titleAlign": "center"}},
        "y2": {"field": "hi"}
      }
    },
    {
      "data": {"name": "Lline"},
      "mark": {"type": "line"},
      "encoding": {
        "x": {"field": "x", "type": "quantitative",
              "axis": {"orient": "top", "title": null, "values": [0,25,50,75,100,125,150,175], "labels": false, "domain": false}},
        "y": {"field": "y", "type": "quantitative",
              "axis": {"orient": "right", "title": null, "values": [-3,-2,-1,0,1,2,3,4], "labels": false, "domain": false}},
        "color": {"field": "m", "type": "nominal",
                  "scale": {"domain": ["HIRHAM","RCAO","CLM","REMO"], "range": ["#000000","#000000","#6a6a6a","#222222"]},
                  "legend": {"orient": "none", "legendX": 46, "legendY": 15, "title": null, "symbolType": "stroke", "symbolSize": 2601, "clipHeight": 20, "labelFontSize": 20, "labelFont": "Liberation Sans", "labelColor": "#000000", "rowPadding": 7, "labelOffset": 8, "padding": 0}},
        "strokeDash": {"field": "m", "type": "nominal",
                  "scale": {"domain": ["HIRHAM","RCAO","CLM","REMO"], "range": [[7,4],[1,0],[2,1.5],[1,0]]},
                  "legend": {"orient": "none", "legendX": 46, "legendY": 15, "title": null, "symbolType": "stroke", "symbolSize": 2601, "clipHeight": 20, "labelFontSize": 20, "labelFont": "Liberation Sans", "labelColor": "#000000", "rowPadding": 7, "labelOffset": 8, "padding": 0}},
        "strokeWidth": {"field": "m", "type": "nominal", "sort": ["HIRHAM","RCAO","CLM","REMO"],
                  "scale": {"type": "ordinal", "domain": ["HIRHAM","RCAO","CLM","REMO"], "range": [2.4,2.6,1.1,1.1]},
                  "legend": {"orient": "none", "legendX": 46, "legendY": 15, "title": null, "symbolType": "stroke", "symbolSize": 2601, "clipHeight": 20, "labelFontSize": 20, "labelFont": "Liberation Sans", "labelColor": "#000000", "rowPadding": 7, "labelOffset": 8, "padding": 0}}
      }
    }
  ]
},
{
  "width": 481, "height": 373,
  "layer": [
    {
      "data": {"name": "Rband"},
      "mark": {"type": "area", "color": "#9b9999", "strokeWidth": 0},
      "encoding": {
        "x": {"field": "x", "type": "quantitative", "scale": {"domain": [0, 193], "nice": false, "zero": false},
              "axis": {"orient": "bottom", "title": null, "values": [0,25,50,75,100,125,150,175], "labelPadding": 13}},
        "y": {"field": "lo", "type": "quantitative", "scale": {"domain": [-5, 7.5], "nice": false, "zero": false},
              "axis": {"orient": "left", "title": "Δ mean duration [ h ]", "values": [-5,-4,-3,-2,-1,0,1,2,3,4,5,6,7], "labelPadding": 15,
                       "labelExpr": "datum.value % 5 == 0 ? datum.label : ''",
                       "titleX": -35, "titleY": 186, "titleAngle": -90, "titleBaseline": "alphabetic", "titleAlign": "center"}},
        "y2": {"field": "hi"}
      }
    },
    {
      "data": {"name": "Rline"},
      "mark": {"type": "line"},
      "encoding": {
        "x": {"field": "x", "type": "quantitative",
              "axis": {"orient": "top", "title": null, "values": [0,25,50,75,100,125,150,175], "labels": false, "domain": false}},
        "y": {"field": "y", "type": "quantitative",
              "axis": {"orient": "right", "title": null, "values": [-5,-4,-3,-2,-1,0,1,2,3,4,5,6,7], "labels": false, "domain": false}},
        "color": {"field": "m", "type": "nominal",
                  "scale": {"domain": ["HIRHAM","RCAO","CLM","REMO"], "range": ["#000000","#000000","#8c8c8c","#111111"]},
                  "legend": {"orient": "none", "legendX": 20.5, "legendY": 20.5, "title": null, "symbolType": "stroke", "symbolSize": 2601, "clipHeight": 20, "labelFontSize": 20, "labelFont": "Liberation Sans", "labelColor": "#000000", "rowPadding": 6.5, "labelOffset": 8, "padding": 0}},
        "strokeDash": {"field": "m", "type": "nominal",
                  "scale": {"domain": ["HIRHAM","RCAO","CLM","REMO"], "range": [[7,4],[1,0],[2,1.5],[1,0]]},
                  "legend": {"orient": "none", "legendX": 20.5, "legendY": 20.5, "title": null, "symbolType": "stroke", "symbolSize": 2601, "clipHeight": 20, "labelFontSize": 20, "labelFont": "Liberation Sans", "labelColor": "#000000", "rowPadding": 6.5, "labelOffset": 8, "padding": 0}},
        "strokeWidth": {"field": "m", "type": "nominal", "sort": ["HIRHAM","RCAO","CLM","REMO"],
                  "scale": {"type": "ordinal", "domain": ["HIRHAM","RCAO","CLM","REMO"], "range": [2.4,2.6,1.1,1.1]},
                  "legend": {"orient": "none", "legendX": 20.5, "legendY": 20.5, "title": null, "symbolType": "stroke", "symbolSize": 2601, "clipHeight": 20, "labelFontSize": 20, "labelFont": "Liberation Sans", "labelColor": "#000000", "rowPadding": 6.5, "labelOffset": 8, "padding": 0}}
      }
    }
  ]
}
],
"config": {
  "background": "#ffffff",
  "view": {"fill": "#dddddd", "stroke": "#6e6e6e", "strokeWidth": 1.5},
  "axis": {"labelFont": "Liberation Sans", "labelFontSize": 18, "labelColor": "#000000", "tickColor": "#555555", "tickSize": -9, "tickWidth": 1,
           "grid": false, "labelFlush": false, "labelOverlap": false, "domainColor": "#111111", "domainWidth": 1.5,
           "titleFont": "Liberation Sans", "titleFontSize": 27.5, "titleFontWeight": "normal", "titleColor": "#000000"},
  "line": {"strokeCap": "butt", "strokeJoin": "miter"}
}
}
